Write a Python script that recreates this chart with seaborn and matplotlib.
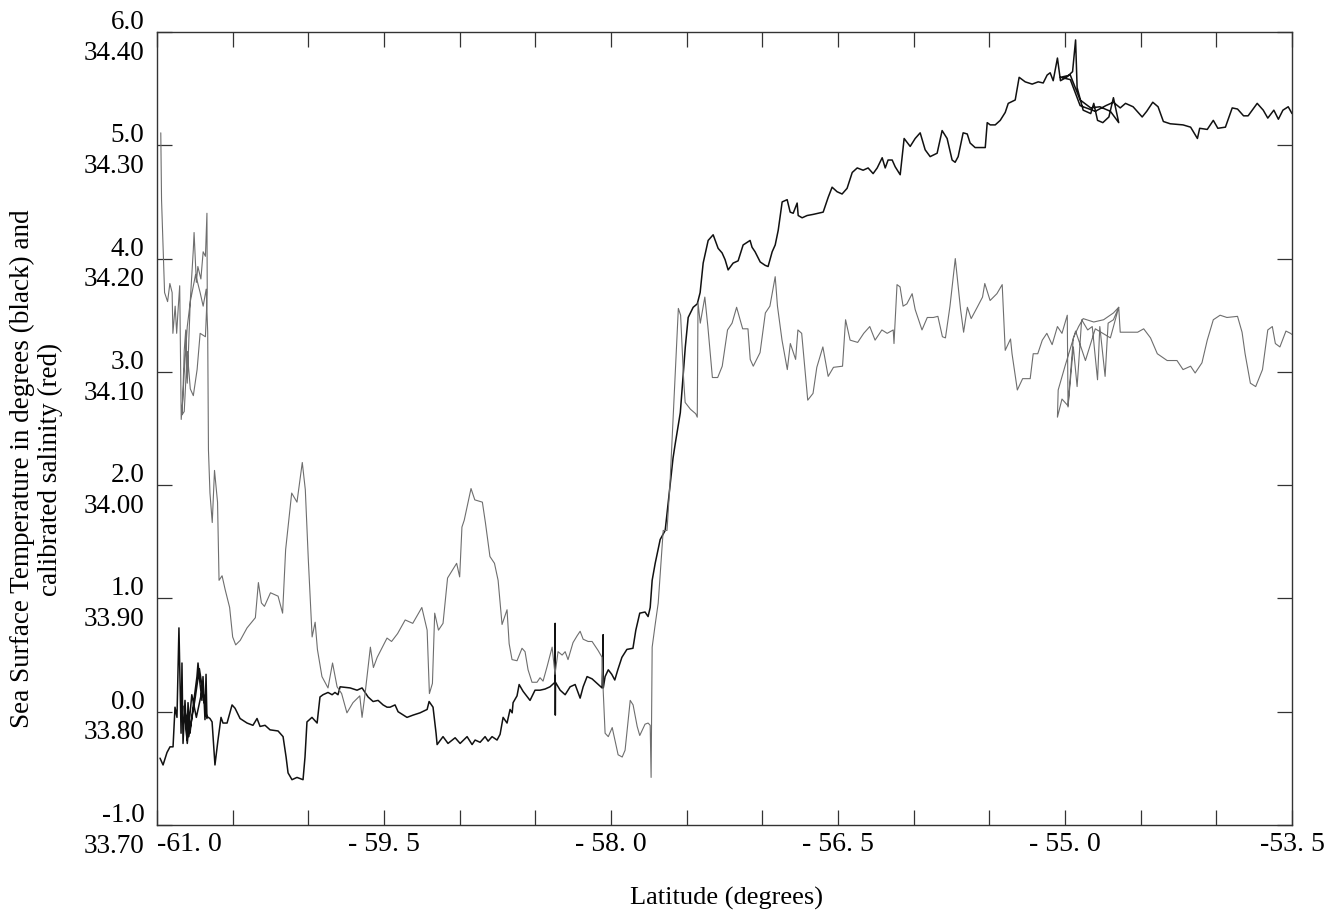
import numpy as np
import pandas as pd
import matplotlib
matplotlib.use("Agg")
import matplotlib.pyplot as plt
import seaborn as sns

# ---------------- data ----------------
temp_lat = [
    -60.980, -60.960, -60.934, -60.914, -60.894, -60.881, -60.868, -60.855, -60.841, -60.835,
    -60.828, -60.815, -60.802, -60.795, -60.782, -60.762, -60.736, -60.729, -60.716, -60.703,
    -60.696, -60.683, -60.676, -60.670, -60.700, -60.740, -60.770, -60.800, -60.820, -60.790,
    -60.750, -60.720, -60.690, -60.672, -60.650, -60.636, -60.617, -60.597, -60.577, -60.564,
    -60.537, -60.504, -60.484, -60.451, -60.405, -60.366, -60.339, -60.319, -60.286, -60.253,
    -60.200, -60.167, -60.147, -60.134, -60.108, -60.075, -60.035, -60.022, -60.009, -59.976,
    -59.942, -59.923, -59.903, -59.870, -59.843, -59.824, -59.804, -59.790, -59.724, -59.678,
    -59.645, -59.625, -59.605, -59.572, -59.539, -59.506, -59.480, -59.460, -59.427, -59.407,
    -59.348, -59.308, -59.262, -59.215, -59.202, -59.176, -59.156, -59.149, -59.110, -59.077,
    -59.030, -58.997, -58.951, -58.918, -58.898, -58.865,
    -58.832, -58.812, -58.786, -58.753, -58.733, -58.713, -58.687, -58.667, -58.653, -58.647,
    -58.621, -58.607, -58.581, -58.535, -58.502, -58.469, -58.436, -58.403, -58.370, -58.369,
    -58.368, -58.367, -58.336, -58.303, -58.270, -58.237, -58.204, -58.184, -58.158, -58.125,
    -58.092, -58.059, -58.052, -58.051, -58.039, -58.018, -57.995, -57.975, -57.955, -57.928,
    -57.895, -57.855, -57.836, -57.810, -57.775, -57.755, -57.741, -57.728, -57.708, -57.675,
    -57.642, -57.590, -57.575, -57.542, -57.509, -57.490, -57.457, -57.430, -57.411, -57.391,
    -57.358, -57.325, -57.292, -57.266, -57.246, -57.226, -57.193, -57.160, -57.127, -57.081,
    -57.068, -57.048, -57.014, -56.981, -56.962, -56.935, -56.915, -56.895, -56.869, -56.836,
    -56.816, -56.796, -56.770, -56.763, -56.737, -56.704, -56.664, -56.631, -56.598, -56.565,
    -56.539, -56.506, -56.473, -56.440, -56.406, -56.373, -56.334, -56.301, -56.268, -56.241,
    -56.208, -56.188, -56.169, -56.142, -56.122, -56.089, -56.063, -56.023, -55.990, -55.957,
    -55.924, -55.891, -55.845, -55.812, -55.779, -55.746, -55.726, -55.706, -55.673, -55.646,
    -55.627, -55.594, -55.561, -55.527, -55.514, -55.494, -55.461, -55.428, -55.395, -55.375,
    -55.329, -55.303, -55.263, -55.217, -55.177, -55.144, -55.118, -55.098, -55.078, -55.050,
    -55.030, -54.990, -54.950, -54.930, -54.920, -54.880, -54.830, -54.810, -54.785, -54.750,
    -54.710, -54.680, -54.645, -54.700, -54.770, -54.830, -54.900, -54.965, -55.030, -54.965,
    -54.900, -54.800, -54.730, -54.680, -54.635, -54.600, -54.550, -54.490, -54.460, -54.420,
    -54.385, -54.350, -54.305, -54.220, -54.170, -54.125, -54.110, -54.060, -54.020, -53.990,
    -53.940, -53.895, -53.860, -53.820, -53.790, -53.730, -53.690, -53.660, -53.620, -53.590,
    -53.560, -53.525, -53.500]
temp_val = [
    -0.41, -0.47, -0.36, -0.31, -0.31, 0.04, -0.05, 0.74, -0.19, 0.43,
    -0.28, 0.10, -0.25, 0.08, -0.19, 0.04, 0.31, 0.43, 0.25, 0.10,
    0.31, -0.07, 0.33, -0.06, 0.20, -0.05, 0.15, -0.28, 0.05, -0.22,
    0.10, 0.38, 0.12, -0.04, -0.06, -0.09, -0.47, -0.25, -0.05, -0.10,
    -0.10, 0.06, 0.03, -0.06, -0.10, -0.12, -0.06, -0.13, -0.12, -0.16,
    -0.17, -0.22, -0.40, -0.54, -0.60, -0.58, -0.60, -0.40, -0.09, -0.05,
    -0.10, 0.13, 0.15, 0.17, 0.15, 0.17, 0.15, 0.22, 0.21, 0.19,
    0.21, 0.17, 0.13, 0.09, 0.10, 0.06, 0.04, 0.04, 0.06, 0.00,
    -0.05, -0.03, -0.01, 0.02, 0.09, 0.04, -0.19, -0.29, -0.22, -0.28,
    -0.23, -0.28, -0.22, -0.29, -0.25, -0.27,
    -0.22, -0.26, -0.22, -0.25, -0.20, -0.05, -0.10, 0.02, -0.01, 0.08,
    0.14, 0.24, 0.18, 0.10, 0.19, 0.19, 0.20, 0.22, 0.26, 0.78,
    -0.03, 0.26, 0.19, 0.15, 0.22, 0.24, 0.12, 0.22, 0.31, 0.29,
    0.25, 0.21, 0.68, 0.21, 0.31, 0.37, 0.33, 0.28, 0.37, 0.48,
    0.55, 0.56, 0.72, 0.87, 0.88, 0.84, 0.92, 1.16, 1.31, 1.52,
    1.60, 2.24, 2.37, 2.64, 3.22, 3.48, 3.57, 3.60, 3.70, 3.96,
    4.16, 4.21, 4.09, 4.05, 3.99, 3.90, 3.96, 3.98, 4.12, 4.16,
    4.10, 4.06, 3.97, 3.94, 3.93, 4.06, 4.12, 4.25, 4.50, 4.52,
    4.41, 4.40, 4.49, 4.38, 4.36, 4.38, 4.39, 4.40, 4.41, 4.54,
    4.63, 4.59, 4.57, 4.62, 4.76, 4.80, 4.78, 4.80, 4.75, 4.80,
    4.89, 4.80, 4.87, 4.87, 4.81, 4.74, 5.06, 4.99, 5.06, 5.11,
    4.96, 4.90, 4.93, 5.13, 5.06, 4.87, 4.85, 4.90, 5.11, 5.10,
    5.02, 4.98, 4.98, 4.98, 5.20, 5.18, 5.18, 5.22, 5.29, 5.37,
    5.40, 5.60, 5.56, 5.54, 5.56, 5.55, 5.62, 5.64, 5.57, 5.77,
    5.57, 5.60, 5.65, 5.93, 5.51, 5.31, 5.28, 5.37, 5.22, 5.20,
    5.25, 5.42, 5.20, 5.30, 5.34, 5.33, 5.40, 5.62, 5.60, 5.58,
    5.35, 5.30, 5.35, 5.38, 5.33, 5.37, 5.34, 5.25, 5.30, 5.38,
    5.34, 5.21, 5.19, 5.18, 5.16, 5.06, 5.15, 5.14, 5.22, 5.15,
    5.16, 5.33, 5.32, 5.26, 5.26, 5.37, 5.31, 5.24, 5.31, 5.23,
    5.31, 5.34, 5.28]

sal_lat = [
    -60.975, -60.97, -60.95, -60.93, -60.915, -60.90, -60.895, -60.88, -60.87, -60.86,
    -60.85, -60.84, -60.83, -60.82, -60.81, -60.80, -60.78, -60.76, -60.755, -60.74,
    -60.73, -60.71, -60.695, -60.68, -60.67, -60.668, -60.68, -60.715, -60.735, -60.76,
    -60.78, -60.80, -60.82, -60.835, -60.82, -60.80, -60.78, -60.745, -60.715, -60.695,
    -60.675, -60.665, -60.66, -60.65, -60.635, -60.62, -60.60, -60.59, -60.57, -60.55,
    -60.52, -60.50, -60.48, -60.45, -60.405, -60.35, -60.33, -60.31, -60.29, -60.25,
    -60.20, -60.17, -60.15, -60.11, -60.075, -60.04, -60.02, -60.00, -59.975, -59.955,
    -59.94, -59.91, -59.87, -59.84, -59.81, -59.78, -59.745, -59.705, -59.66, -59.645,
    -59.625, -59.59, -59.57, -59.545, -59.48, -59.45, -59.41, -59.36, -59.31, -59.25,
    -59.215, -59.20, -59.18, -59.165, -59.14, -59.11, -59.08, -59.02, -59.00, -58.985,
    -58.97, -58.925, -58.90, -58.85, -58.83, -58.80, -58.77,
    -58.746, -58.720, -58.687, -58.673, -58.654, -58.621, -58.588, -58.568, -58.548, -58.522,
    -58.489, -58.469, -58.449, -58.422, -58.389, -58.370, -58.350, -58.323, -58.303, -58.284,
    -58.251, -58.224, -58.204, -58.184, -58.151, -58.125, -58.105, -58.085, -58.059, -58.052,
    -58.039, -58.018, -57.992, -57.971, -57.953, -57.926, -57.907, -57.887, -57.873, -57.854,
    -57.827, -57.810, -57.775, -57.755, -57.741, -57.735, -57.728, -57.708, -57.688,
    -57.655, -57.63, -57.61, -57.59, -57.575, -57.555, -57.54, -57.52, -57.51,
    -57.475, -57.44, -57.43, -57.425, -57.41, -57.38, -57.36, -57.33, -57.295, -57.265,
    -57.23, -57.20, -57.17, -57.13, -57.095, -57.08, -57.06, -57.015, -56.98, -56.95,
    -56.915, -56.90, -56.87, -56.835, -56.815, -56.78, -56.765, -56.74, -56.70, -56.665,
    -56.64, -56.60, -56.565, -56.53, -56.47, -56.45, -56.42, -56.37, -56.33, -56.29,
    -56.255, -56.21, -56.175, -56.135, -56.13, -56.11, -56.09, -56.07, -56.045, -56.01,
    -55.99, -55.945, -55.91, -55.87, -55.84, -55.81, -55.79, -55.76, -55.725, -55.69,
    -55.67, -55.645, -55.62, -55.58, -55.545, -55.53, -55.495, -55.45, -55.415, -55.395,
    -55.36, -55.35, -55.315, -55.28, -55.23, -55.21, -55.18, -55.15, -55.12, -55.085,
    -55.05, -55.02, -54.985, -54.98, -54.945, -54.92, -54.89, -54.85, -54.82, -54.785,
    -54.77, -54.735, -54.715, -54.68, -54.645, -54.70, -54.80, -54.865, -54.93, -55.00,
    -55.045, -55.05, -55.02, -54.98, -54.945, -54.91, -54.88, -54.81, -54.745, -54.68,
    -54.645, -54.635, -54.585, -54.52, -54.48, -54.435, -54.39, -54.325, -54.26, -54.22,
    -54.17, -54.14, -54.095, -54.06, -54.02, -53.975, -53.93, -53.86, -53.83, -53.81,
    -53.775, -53.74, -53.695, -53.66, -53.63, -53.61, -53.58, -53.54, -53.51, -53.50]
sal_val = [
    34.311, 34.252, 34.170, 34.162, 34.178, 34.170, 34.134, 34.158, 34.134, 34.156,
    34.176, 34.058, 34.076, 34.119, 34.137, 34.090, 34.163, 34.208, 34.223, 34.179,
    34.193, 34.182, 34.206, 34.202, 34.240, 34.170, 34.131, 34.134, 34.102, 34.079,
    34.085, 34.118, 34.065, 34.062, 34.100, 34.140, 34.162, 34.186, 34.170, 34.158,
    34.173, 34.135, 34.031, 33.993, 33.967, 34.013, 33.985, 33.916, 33.920, 33.908,
    33.892, 33.866, 33.859, 33.863, 33.874, 33.883, 33.914, 33.896, 33.893, 33.905,
    33.902, 33.887, 33.943, 33.993, 33.985, 34.020, 33.996, 33.934, 33.866, 33.879,
    33.855, 33.831, 33.821, 33.843, 33.822, 33.816, 33.799, 33.808, 33.814, 33.795,
    33.816, 33.857, 33.839, 33.848, 33.865, 33.862, 33.869, 33.881, 33.878, 33.892,
    33.872, 33.816, 33.825, 33.887, 33.872, 33.878, 33.918, 33.931, 33.919, 33.963,
    33.969, 33.997, 33.987, 33.985, 33.967, 33.937, 33.931,
    33.916, 33.877, 33.890, 33.860, 33.846, 33.845, 33.856, 33.853, 33.837, 33.826,
    33.826, 33.830, 33.827, 33.840, 33.857, 33.833, 33.853, 33.850, 33.853, 33.846,
    33.861, 33.867, 33.871, 33.864, 33.862, 33.862, 33.858, 33.854, 33.848, 33.820,
    33.781, 33.778, 33.786, 33.773, 33.762, 33.760, 33.766, 33.792, 33.810, 33.806,
    33.787, 33.779, 33.789, 33.790, 33.788, 33.742, 33.857, 33.877, 33.896,
    33.960, 33.960, 34.002, 34.058, 34.102, 34.156, 34.150, 34.093, 34.073,
    34.067, 34.063, 34.060, 34.161, 34.143, 34.166, 34.140, 34.095, 34.095, 34.105,
    34.137, 34.143, 34.157, 34.138, 34.138, 34.111, 34.105, 34.117, 34.152, 34.158,
    34.184, 34.158, 34.128, 34.102, 34.125, 34.111, 34.137, 34.134, 34.075, 34.081,
    34.104, 34.122, 34.096, 34.104, 34.105, 34.146, 34.128, 34.126, 34.134, 34.140,
    34.128, 34.137, 34.134, 34.137, 34.125, 34.177, 34.175, 34.158, 34.160, 34.169,
    34.155, 34.137, 34.148, 34.148, 34.149, 34.131, 34.130, 34.158, 34.200, 34.155,
    34.135, 34.157, 34.147, 34.157, 34.166, 34.178, 34.163, 34.169, 34.177, 34.119,
    34.129, 34.116, 34.084, 34.094, 34.094, 34.116, 34.116, 34.128, 34.134, 34.124,
    34.140, 34.134, 34.150, 34.069, 34.122, 34.087, 34.146, 34.137, 34.140, 34.093,
    34.140, 34.096, 34.143, 34.146, 34.157, 34.130, 34.138, 34.110, 34.136, 34.105,
    34.084, 34.060, 34.076, 34.070, 34.130, 34.140, 34.147, 34.144, 34.146, 34.152,
    34.157, 34.135, 34.135, 34.135, 34.138, 34.130, 34.116, 34.110, 34.110, 34.102,
    34.105, 34.099, 34.108, 34.128, 34.146, 34.150, 34.148, 34.149, 34.135, 34.116,
    34.090, 34.087, 34.102, 34.137, 34.140, 34.125, 34.122, 34.136, 34.134, 34.133]

x_ticks = [-61.0, -60.5, -60.0, -59.5, -59.0, -58.5, -58.0, -57.5, -57.0, -56.5,
           -56.0, -55.5, -55.0, -54.5, -54.0, -53.5]
x_tick_labels = ["-61. 0", "", "", "- 59. 5", "", "", "- 58. 0", "", "", "- 56. 5",
                 "", "", "- 55. 0", "", "", "-53. 5"]
temp_ticks = [-1.0, 0.0, 1.0, 2.0, 3.0, 4.0, 5.0, 6.0]
sal_ticks = ["33.70", "33.80", "33.90", "34.00", "34.10", "34.20", "34.30", "34.40"]

# ---------------- style ----------------
sns.set_theme(style="ticks")
plt.rcParams["font.family"] = ["Liberation Serif", "DejaVu Serif"]
plt.rcParams["axes.edgecolor"] = "#333333"
plt.rcParams["axes.linewidth"] = 1.0

fig = plt.figure(figsize=(13.34, 9.19), dpi=100)
ax = fig.add_axes([157 / 1334, 1 - 825 / 919, 1135 / 1334, 793 / 919])
ax2 = ax.twinx()

temp_df = pd.DataFrame({"lat": temp_lat, "temp": temp_val})
sal_df = pd.DataFrame({"lat": sal_lat, "sal": sal_val})

sns.lineplot(data=sal_df, x="lat", y="sal", ax=ax2, sort=False, estimator=None,
             color="#6e6e6e", linewidth=0.8)
sns.lineplot(data=temp_df, x="lat", y="temp", ax=ax, sort=False, estimator=None,
             color="#111111", linewidth=1.1)

ax.set_xlim(-61.0, -53.5)
ax.set_ylim(-1.0, 6.0)
ax2.set_ylim(33.70, 34.40)
ax2.set_yticks([])
ax2.set_ylabel("")
ax2.tick_params(right=False, labelright=False)
for sp in ax2.spines.values():
    sp.set_visible(False)

ax.set_xticks(x_ticks)
ax.set_xticklabels(x_tick_labels)
ax.set_yticks(temp_ticks)
ax.set_yticklabels([f"{t:.1f}\n{s}" for t, s in zip(temp_ticks, sal_ticks)],
                   multialignment="right", linespacing=1.3)
ax.tick_params(axis="both", direction="in", length=11, width=0.9, color="#333333",
               top=True, right=True, labelcolor="black")
ax.tick_params(axis="y", pad=9, labelsize=19.5)
ax.tick_params(axis="x", pad=5, labelsize=20)
for lbl in ax.get_yticklabels():
    lbl.set_verticalalignment("center_baseline")
for lbl in ax.get_xticklabels():
    if lbl.get_text() == "-61. 0":
        lbl.set_horizontalalignment("left")

ax.set_xlabel("Latitude (degrees)", fontsize=19, color="black")
ax.xaxis.set_label_coords(0.502, -0.092)
ax.xaxis.label.set_va("center")
ax.set_ylabel("Sea Surface Temperature in degrees (black) and\ncalibrated salinity (red)",
              fontsize=19.5, color="black", linespacing=1.15)
ax.yaxis.set_label_coords(-0.1066, 0.449)
ax.yaxis.label.set_va("center")

fig.savefig("out.png", dpi=100, facecolor="white")
